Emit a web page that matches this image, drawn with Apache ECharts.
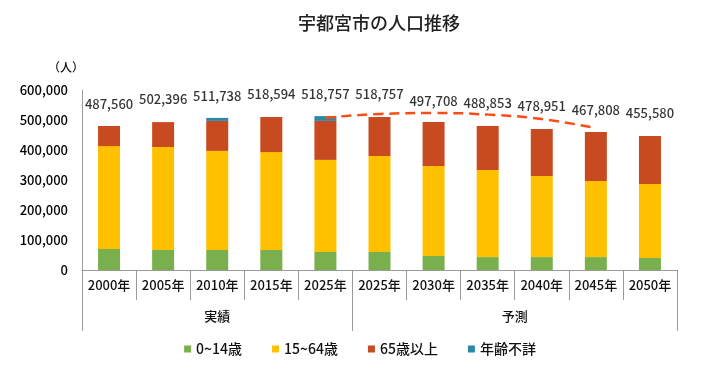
<!DOCTYPE html>
<html>
<head>
<meta charset="utf-8">
<script src="https://cdn.jsdelivr.net/npm/echarts@6/dist/echarts.min.js"></script>
<style>
html,body{margin:0;padding:0;background:#fff;}
#c{width:720px;height:370px;}
</style>
</head>
<body>
<div id="c"></div>
<script>
var categories = ['2000年','2005年','2010年','2015年','2025年','2025年','2030年','2035年','2040年','2045年','2050年'];
var groupLabels = ['実績','予測'];
var age0_14  = [70000, 67000, 67000, 67000, 60000, 60000, 47000, 43000, 43000, 43000, 40000];
var age15_64 = [343000, 343000, 330000, 326000, 307000, 320000, 300000, 290000, 270000, 254000, 247000];
var age65    = [67000, 83000, 100000, 117000, 130000, 130000, 146000, 147000, 157000, 163000, 160000];
var ageUnknown = [0, 0, 10000, 0, 16000, 0, 0, 0, 0, 0, 0];
var totals = [487560, 502396, 511738, 518594, 518757, 518757, 497708, 488853, 478951, 467808, 455580];
var trendLine = [null, null, null, null, 507000, 520000, 523000, 518000, 503000, 473000, null];
var yTicks = [0, 100000, 200000, 300000, 400000, 500000, 600000];
var seriesNames = ['0~14歳','15~64歳','65歳以上','年齢不詳'];

// secondary axis: 23 points over the same width (half-band steps)
var groupAxis = [];
for (var i = 0; i < 23; i++) groupAxis.push('');
groupAxis[5] = groupLabels[0];
groupAxis[16] = groupLabels[1];

var FONT = '"Noto Sans CJK JP", "Noto Sans", sans-serif';
var W = 500;
var chart = echarts.init(document.getElementById('c'));
chart.setOption({
  animation: false,
  textStyle: {fontFamily: FONT},
  title: {
    text: '宇都宮市の人口推移',
    left: 293, top: 9,
    textStyle: {fontSize: 18, fontWeight: W, color: '#222', fontFamily: FONT}
  },
  legend: {
    data: seriesNames,
    left: 'center', top: 337,
    icon: 'rect', itemWidth: 7, itemHeight: 7, itemGap: 30,
    textStyle: {fontSize: 14, color: '#111', fontWeight: W, fontFamily: FONT}
  },
  grid: {left: 82, right: 43, top: 90, bottom: 100},
  xAxis: [{
    type: 'category',
    data: categories,
    axisLine: {show: true, lineStyle: {color: '#9a9a9a', width: 1}},
    axisTick: {show: true, interval: 0, length: 30, lineStyle: {color: '#9a9a9a'}},
    axisLabel: {interval: 0, margin: 9, fontSize: 13, color: '#111', fontWeight: W, fontFamily: FONT}
  }, {
    type: 'category',
    data: groupAxis,
    boundaryGap: false,
    position: 'bottom',
    axisLine: {show: false},
    axisTick: {show: true, length: 61, lineStyle: {color: '#9a9a9a'},
      interval: function (idx) { return idx === 0 || idx === 10 || idx === 22; }},
    axisLabel: {interval: 0, margin: 40, fontSize: 13, color: '#111', fontWeight: W, fontFamily: FONT}
  }],
  yAxis: {
    type: 'value',
    min: yTicks[0], max: yTicks[yTicks.length - 1], interval: 100000,
    name: '（人）',
    nameLocation: 'end',
    nameGap: 17,
    nameTextStyle: {fontSize: 12, color: '#111', fontWeight: W, align: 'right', padding: [0, -2, 0, 0]},
    axisLine: {show: true, lineStyle: {color: '#9a9a9a'}},
    axisTick: {show: false},
    splitLine: {show: false},
    axisLabel: {
      margin: 14, fontSize: 13, color: '#000', fontWeight: W, fontFamily: FONT,
      formatter: function (v) { return v.toLocaleString('en-US'); }
    }
  },
  series: [
    {name: seriesNames[0], type: 'bar', stack: 'p', barWidth: 22, data: age0_14, itemStyle: {color: '#79b04d'}},
    {name: seriesNames[1], type: 'bar', stack: 'p', barWidth: 22, data: age15_64, itemStyle: {color: '#ffc000'}},
    {name: seriesNames[2], type: 'bar', stack: 'p', barWidth: 22, data: age65, itemStyle: {color: '#c84a21'}},
    {name: seriesNames[3], type: 'bar', stack: 'p', barWidth: 22, data: ageUnknown, itemStyle: {color: '#2b89a8'}},
    {
      name: 'total', type: 'scatter', data: totals, symbolSize: 1,
      itemStyle: {color: 'rgba(0,0,0,0)'},
      label: {
        show: true, position: 'top', distance: 13, fontSize: 13, color: '#000', fontWeight: W, fontFamily: FONT,
        formatter: function (p) { return p.value.toLocaleString('en-US'); }
      },
      silent: true
    },
    {
      name: 'trend', type: 'line', data: trendLine, smooth: true, symbol: 'none',
      connectNulls: false, z: 5,
      lineStyle: {color: '#ff4b14', width: 2.5, type: [10, 6]}
    }
  ]
});
</script>
</body>
</html>
